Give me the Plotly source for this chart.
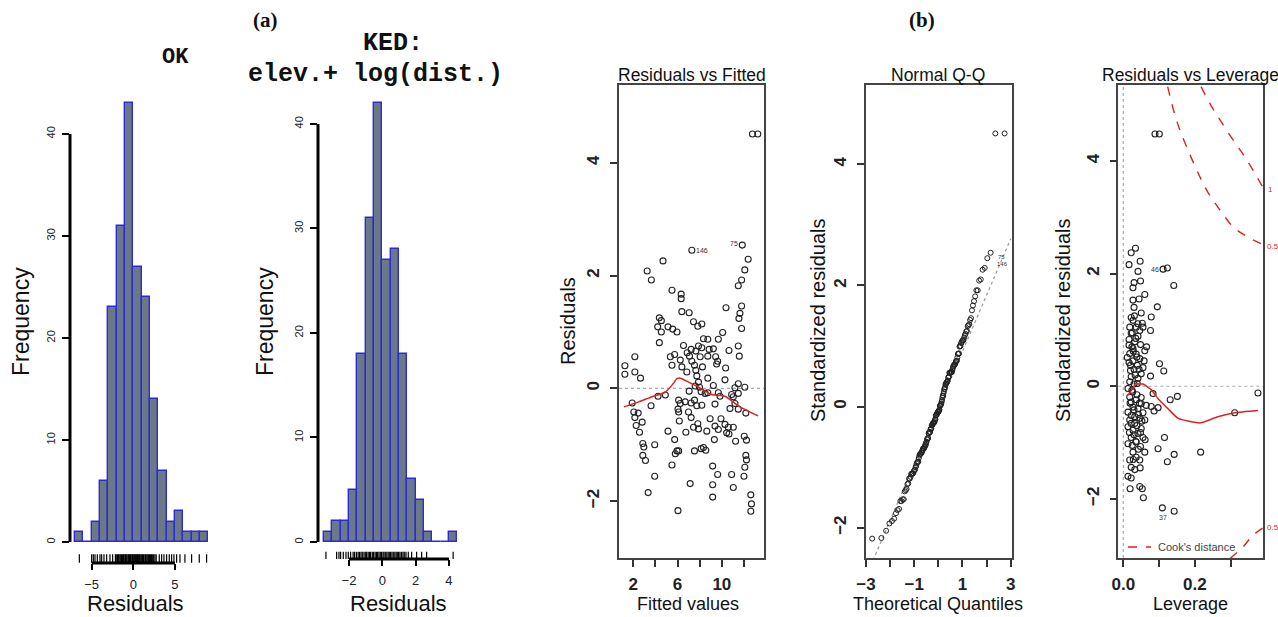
import plotly.graph_objects as go
from statistics import NormalDist

W, H = 1278, 617
FONT = "Liberation Sans, Arial, sans-serif"
MONO = "Liberation Mono, Courier New, monospace"
SERIF = "Liberation Serif, Times New Roman, serif"

# ---------------- data ----------------
ok_bin_edges = [-7, -6, -5, -4, -3, -2, -1, 0, 1, 2, 3, 4, 5, 6, 7, 8, 9]
ok_counts = [1, 0, 2, 6, 23, 31, 43, 27, 24, 14, 7, 2, 3, 1, 1, 1]
ok_rug = [-6.48, -5.0, -4.8, -4.6, -4.32, -4.0, -3.8, -3.52, -3.2, -2.8, -2.48,
          -2.15, -2.05, -1.9, -1.8, -1.72, -1.6, -1.5, -1.41, -1.3, -1.2, -1.12,
          -1.0, -0.93, -0.85, -0.75, -0.62, -0.55, -0.44, -0.35, -0.26, -0.15,
          -0.08, 0.05, 0.12, 0.24, 0.33, 0.41, 0.52, 0.6, 0.72, 0.8, 0.91, 1.02,
          1.1, 1.22, 1.3, 1.45, 1.53, 1.64, 1.75, 1.85, 1.96, 2.08, 2.2, 2.33,
          2.45, 2.6, 2.75, 3.12, 3.4, 3.68, 4.0, 4.32, 4.6, 4.88, 5.2, 5.6, 6.2,
          7.0, 7.92, 8.8]

ked_bin_edges = [-3.5, -3.0, -2.5, -2.0, -1.5, -1.0, -0.5, 0.0, 0.5, 1.0, 1.5,
                 2.0, 2.5, 3.0, 3.5, 4.0, 4.5]
ked_counts = [1, 2, 2, 5, 18, 31, 42, 27, 28, 18, 6, 4, 1, 0, 0, 1]
ked_rug = [-3.38, -2.74, -2.6, -2.5, -2.34, -2.18, -2.04, -1.9, -1.75, -1.66,
           -1.55, -1.45, -1.37, -1.28, -1.2, -1.1, -1.02, -0.94, -0.85, -0.77,
           -0.7, -0.6, -0.52, -0.43, -0.35, -0.28, -0.2, -0.12, -0.05, 0.04, 0.1,
           0.18, 0.27, 0.35, 0.42, 0.5, 0.58, 0.66, 0.75, 0.83, 0.9, 0.98, 1.06,
           1.15, 1.24, 1.32, 1.42, 1.56, 1.76, 2.06, 2.36, 2.66, 4.25]

fitted = [7.29, 11.84, 12.37, 4.69, 3.26, 12.07, 3.64, 11.78, 11.48, 5.50,
          6.33, 6.33, 10.37, 11.78, 6.39, 7.05, 11.63, 11.54, 4.36, 4.54,
          7.44, 7.83, 8.19, 11.78, 4.21, 5.14, 5.56, 4.54, 5.95, 10.07,
          8.34, 8.73, 9.68, 4.36, 6.54, 7.89, 11.48, 7.23, 8.19, 8.85,
          9.23, 10.64, 5.74, 6.87, 7.65, 2.15, 5.35, 7.08, 8.04, 8.73,
          9.44, 11.57, 6.25, 7.29, 9.62, 1.25, 5.50, 6.39, 7.53, 8.25,
          9.53, 10.34, 1.25, 2.15, 7.65, 7.74, 6.84, 2.66, 8.73, 10.28,
          7.89, 11.48, 12.07, 9.23, 7.59, 7.98, 11.18, 7.05, 8.13, 8.49,
          8.73, 9.68, 9.83, 10.88, 11.03, 11.48, 4.24, 4.90, 1.91, 3.61,
          6.10, 6.69, 6.25, 7.23, 7.53, 7.74, 8.19, 9.38, 10.73, 11.18,
          11.48, 12.16, 6.04, 6.10, 6.99, 2.06, 2.45, 2.15, 2.81, 2.27,
          7.23, 8.94, 9.92, 7.83, 6.16, 7.44, 7.89, 8.64, 9.38, 9.68,
          10.28, 10.58, 11.03, 10.43, 10.64, 2.57, 5.14, 6.75, 9.32, 11.24,
          12.02, 12.22, 5.74, 3.94, 2.87, 2.96, 8.34, 8.13, 8.55, 7.53,
          5.95, 6.10, 5.80, 2.87, 3.11, 12.16, 12.22, 5.50, 9.17, 12.07,
          3.94, 9.62, 10.88, 11.99, 7.14, 9.17, 11.03, 3.35, 9.17, 12.61,
          12.67, 12.61, 6.04, 12.76, 13.24]
resid = [2.45, 2.54, 2.29, 2.26, 2.08, 2.10, 1.92, 1.92, 1.82, 1.74,
         1.67, 1.59, 1.43, 1.46, 1.36, 1.34, 1.33, 1.24, 1.25, 1.20,
         1.18, 1.10, 1.14, 1.06, 1.09, 1.09, 1.05, 1.00, 1.00, 0.99,
         0.88, 0.87, 0.87, 0.81, 0.76, 0.75, 0.75, 0.69, 0.72, 0.69,
         0.70, 0.67, 0.60, 0.63, 0.66, 0.56, 0.56, 0.57, 0.56, 0.57,
         0.56, 0.57, 0.50, 0.48, 0.48, 0.40, 0.41, 0.38, 0.41, 0.38,
         0.43, 0.36, 0.25, 0.29, 0.32, 0.22, 0.29, 0.18, 0.18, 0.15,
         0.11, 0.08, 0.02, 0.05, 0.04, 0.02, 0.01, -0.05, -0.06, -0.09,
         -0.08, -0.08, -0.14, -0.11, -0.15, -0.09, -0.14, -0.12, -0.26, -0.31,
         -0.21, -0.24, -0.27, -0.26, -0.21, -0.31, -0.30, -0.28, -0.36, -0.27,
         -0.37, -0.44, -0.37, -0.42, -0.42, -0.42, -0.44, -0.52, -0.60, -0.66,
         -0.52, -0.54, -0.54, -0.63, -0.58, -0.69, -0.72, -0.76, -0.67, -0.73,
         -0.64, -0.69, -0.69, -0.79, -0.81, -0.78, -0.76, -0.78, -0.91, -0.94,
         -0.85, -0.92, -0.91, -1.00, -0.98, -1.04, -1.05, -1.07, -1.10, -1.11,
         -1.11, -1.11, -1.16, -1.19, -1.28, -1.19, -1.27, -1.36, -1.38, -1.40,
         -1.56, -1.53, -1.53, -1.56, -1.69, -1.71, -1.76, -1.85, -1.93, -1.89,
         -2.05, -2.18, -2.17, 4.51, 4.51]
fit_smooth_x = [1.16, 2.5, 3.70, 4.90, 5.60, 5.95, 6.25, 6.99, 7.89, 9.08, 10.28, 11.48, 13.27]
fit_smooth_y = [-0.33, -0.24, -0.15, -0.07, 0.08, 0.17, 0.18, 0.11, 0.02, -0.11, -0.14, -0.31, -0.49]

qq_line_x = [-3.0, 3.0]
qq_line_y = [-2.81, 2.77]

leverage = [0.034, 0.022, 0.047, 0.016, 0.041, 0.111, 0.123, 0.030, 0.048, 0.027,
            0.141, 0.060, 0.027, 0.095, 0.030, 0.050, 0.022, 0.078, 0.027, 0.041,
            0.018, 0.036, 0.055, 0.076, 0.046, 0.022, 0.041, 0.016, 0.032, 0.016,
            0.048, 0.027, 0.060, 0.018, 0.036, 0.011, 0.046, 0.027, 0.020, 0.039,
            0.055, 0.030, 0.101, 0.113, 0.050, 0.076, 0.022, 0.041, 0.018, 0.030,
            0.013, 0.024, 0.083, 0.376, 0.151, 0.131, 0.018, 0.036, 0.022, 0.050,
            0.064, 0.078, 0.097, 0.086, 0.027, 0.041, 0.013, 0.055, 0.032, 0.046,
            0.018, 0.060, 0.032, 0.013, 0.050, 0.027, 0.041, 0.055, 0.022, 0.115,
            0.036, 0.013, 0.048, 0.097, 0.060, 0.027, 0.216, 0.142, 0.036, 0.018,
            0.046, 0.123, 0.022, 0.032, 0.013, 0.022, 0.311, 0.019, 0.046, 0.053,
            0.056, 0.109, 0.142, 0.0885, 0.1006,
            0.025, 0.035, 0.028, 0.038, 0.020, 0.033, 0.044, 0.026, 0.038, 0.045,
            0.030, 0.042, 0.022, 0.052, 0.038, 0.022, 0.048, 0.030, 0.042, 0.025,
            0.050, 0.058, 0.016, 0.031, 0.044, 0.053, 0.019, 0.035, 0.028, 0.047,
            0.061, 0.065, 0.017, 0.039, 0.024]
std_resid = [2.45, 2.37, 2.22, 2.16, 2.04, 2.08, 2.10, 1.84, 1.87, 1.75,
             1.79, 1.63, 1.53, 1.41, 1.40, 1.30, 1.22, 1.23, 1.17, 1.11,
             1.05, 1.05, 1.05, 0.99, 0.99, 0.94, 0.89, 0.83, 0.79, 0.73,
             0.74, 0.67, 0.63, 0.58, 0.57, 0.51, 0.49, 0.45, 0.37, 0.37,
             0.33, 0.30, 0.40, 0.27, 0.22, 0.18, 0.17, 0.14, 0.08, 0.04,
             -0.04, -0.07, -0.13, -0.12, -0.18, -0.24, -0.19, -0.24, -0.28, -0.31,
             -0.34, -0.36, -0.38, -0.44, -0.37, -0.40, -0.46, -0.47, -0.54, -0.57,
             -0.60, -0.60, -0.66, -0.72, -0.75, -0.78, -0.84, -0.91, -0.91, -0.91,
             -0.99, -1.02, -1.07, -1.11, -1.17, -1.17, -1.17, -1.21, -1.26, -1.31,
             -1.31, -1.34, -1.44, -1.48, -1.60, -1.63, -0.47, -1.82, -1.78, -1.82,
             -1.98, -2.16, -2.22, 4.48, 4.48,
             0.95, 0.85, 0.62, 0.52, 0.28, 0.20, 0.30, -0.10, -0.15, -0.30,
             -0.42, -0.50, -0.52, -0.62, -0.70, -0.66, -0.82, -0.86, -1.12, -1.05,
             -0.20, 0.45, 0.42, 1.25, 1.55, 1.12, -0.30, -0.98, -1.30, -1.45,
             -0.95, 0.70, -0.82, 0.05, 0.70]
lev_smooth_x = [0.013, 0.025, 0.036, 0.041, 0.055, 0.078, 0.097, 0.125, 0.153, 0.216, 0.264, 0.311, 0.376]
lev_smooth_y = [-0.16, -0.05, 0.06, 0.04, 0.04, -0.06, -0.22, -0.40, -0.57, -0.65, -0.54, -0.47, -0.43]
cook05_x = [0.124, 0.140, 0.158, 0.177, 0.205, 0.233, 0.270, 0.307, 0.345, 0.389]
cook05_y = [5.32, 4.91, 4.55, 4.25, 3.84, 3.48, 3.13, 2.83, 2.66, 2.52]
cook1_x = [0.217, 0.242, 0.270, 0.307, 0.345, 0.389]
cook1_y = [5.32, 5.02, 4.73, 4.37, 4.02, 3.54]
cook05_low_x = [0.298, 0.335, 0.360, 0.389]
cook05_low_y = [-3.06, -2.85, -2.66, -2.52]

# ---------------- helpers ----------------
def dom_x(a, b):
    return [a / W, b / W]


def dom_y(top, bottom):
    return [1 - bottom / H, 1 - top / H]


def px(x):
    return x / W


def py(y):
    return 1 - y / H


fig = go.Figure()


def centers(edges):
    return [(edges[i] + edges[i + 1]) / 2 for i in range(len(edges) - 1)]


def widths(edges):
    return [edges[i + 1] - edges[i] for i in range(len(edges) - 1)]


BAR_FILL = "#6b7888"
BAR_LINE = "#2b2bd8"
for edges, counts, rug, rug_y, xa, ya in [
    (ok_bin_edges, ok_counts, ok_rug, -1.62, "x", "y"),
    (ked_bin_edges, ked_counts, ked_rug, -1.34, "x2", "y2"),
]:
    fig.add_trace(go.Bar(x=centers(edges), y=counts, width=widths(edges),
                         marker=dict(color=BAR_FILL, line=dict(color=BAR_LINE, width=1.4)),
                         xaxis=xa, yaxis=ya, showlegend=False, hoverinfo="skip"))
    fig.add_trace(go.Scatter(x=rug, y=[rug_y] * len(rug), mode="markers",
                             marker=dict(symbol="line-ns-open", size=6, color="black",
                                         line=dict(color="black", width=1.2)),
                             xaxis=xa, yaxis=ya, showlegend=False, hoverinfo="skip"))

PT = dict(symbol="circle-open", size=6, color="#222", line=dict(width=1.1))
RED = "#dd2222"

# Residuals vs Fitted
fig.add_trace(go.Scatter(x=fitted, y=resid, mode="markers", marker=PT,
                         xaxis="x3", yaxis="y3", showlegend=False))
fig.add_trace(go.Scatter(x=fit_smooth_x, y=fit_smooth_y, mode="lines",
                         line=dict(color=RED, width=1.5, shape="spline", smoothing=0.6),
                         xaxis="x3", yaxis="y3", showlegend=False))

# Normal Q-Q (theoretical quantiles of the residuals)
qq_y = sorted(resid)
n = len(qq_y)
qq_x = [NormalDist().inv_cdf((i + 0.5) / n) for i in range(n)]
fig.add_trace(go.Scatter(x=qq_line_x, y=qq_line_y, mode="lines",
                         line=dict(color="#999", width=1.2, dash="dot"),
                         xaxis="x4", yaxis="y4", showlegend=False))
fig.add_trace(go.Scatter(x=qq_x, y=qq_y, mode="markers",
                         marker=dict(symbol="circle-open", size=5, color="#222", line=dict(width=1)),
                         xaxis="x4", yaxis="y4", showlegend=False))

# Residuals vs Leverage
for cx, cy in [(cook05_x, cook05_y), (cook1_x, cook1_y), (cook05_low_x, cook05_low_y)]:
    fig.add_trace(go.Scatter(x=cx, y=cy, mode="lines",
                             line=dict(color=RED, width=1.4, dash="dash", shape="spline"),
                             xaxis="x5", yaxis="y5", showlegend=False))
fig.add_trace(go.Scatter(x=leverage, y=std_resid, mode="markers", marker=PT,
                         xaxis="x5", yaxis="y5", showlegend=False))
fig.add_trace(go.Scatter(x=lev_smooth_x, y=lev_smooth_y, mode="lines",
                         line=dict(color=RED, width=1.5, shape="spline", smoothing=0.5),
                         xaxis="x5", yaxis="y5", showlegend=False))

# ---------------- axes ----------------
def hist_axes(xdom, ydom, xr, yr, xticks, yticks):
    xa = dict(domain=xdom, range=xr, showline=False, showgrid=False, zeroline=False,
              ticks="outside", ticklen=6, tickwidth=2, tickcolor="black",
              tickvals=xticks, ticktext=[str(t).replace("-", "\u2212") for t in xticks],
              tickfont=dict(family=FONT, size=13, color="#222"), ticklabelstandoff=3,
              fixedrange=True, automargin=False)
    ya = dict(domain=ydom, range=yr, showline=False, showgrid=False, zeroline=False,
              ticks="outside", ticklen=7, tickwidth=2, tickcolor="black",
              tickvals=yticks, ticktext=[str(t) for t in yticks], tickangle=-90,
              tickfont=dict(family=FONT, size=11, color="#222"), ticklabelstandoff=3,
              fixedrange=True, automargin=False)
    return xa, ya


def diag_axes(xdom, ydom, xr, yr, xticks, xtext):
    common = dict(showline=True, mirror=True, linecolor="#444", linewidth=1.6,
                  showgrid=False, zeroline=False, ticks="outside", ticklen=7,
                  tickwidth=1.5, tickcolor="#333", fixedrange=True, automargin=False,
                  tickfont=dict(family=FONT, size=17, color="#222", weight="bold"))
    xa = dict(domain=xdom, range=xr, tickvals=xticks, ticktext=xtext, ticklabelstandoff=3, **common)
    ya = dict(domain=ydom, range=yr, tickvals=[-2, 0, 2, 4],
              ticktext=["\u22122", "0", "2", "4"], tickangle=-90, ticklabelstandoff=4, **common)
    return xa, ya


x1, y1 = hist_axes(dom_x(70, 212), dom_y(85, 563), [-7.60, 9.45], [-2.06, 44.8],
                   [-5, 0, 5], [0, 10, 20, 30, 40])
x2, y2 = hist_axes(dom_x(318, 462), dom_y(85, 559), [-3.857, 4.781], [-1.627, 43.73],
                   [-2, 0, 2, 4], [0, 10, 20, 30, 40])
x3, y3 = diag_axes(dom_x(619, 764), dom_y(85, 558), [0.72, 13.8], [-3.01, 5.38],
                   [2, 4, 6, 8, 10, 12], ["2", "", "6", "", "10", ""])
x4, y4 = diag_axes(dom_x(866, 1011.7), dom_y(85, 558), [-3.0, 3.04], [-2.5, 5.31],
                   [-3, -2, -1, 0, 1, 2, 3], ["\u22123", "", "\u22121", "", "1", "", "3"])
x5, y5 = diag_axes(dom_x(1118.3, 1263.3), dom_y(85, 558), [-0.014, 0.391], [-3.05, 5.35],
                   [0.0, 0.1, 0.2, 0.3], ["0.0", "", "0.2", ""])

for i, (xa, ya) in enumerate([(x1, y1), (x2, y2), (x3, y3), (x4, y4), (x5, y5)], start=1):
    sx = "" if i == 1 else str(i)
    xa["anchor"] = "y" + sx
    ya["anchor"] = "x" + sx

shapes = []
# R-style axis lines for histograms
shapes += [
    dict(type="line", xref="paper", yref="y", x0=px(70), x1=px(70), y0=0, y1=40,
         line=dict(color="black", width=3)),
    dict(type="line", xref="x", yref="paper", x0=-5, x1=5, y0=py(563), y1=py(563),
         line=dict(color="black", width=3)),
    dict(type="line", xref="paper", yref="y2", x0=px(318), x1=px(318), y0=0, y1=40,
         line=dict(color="black", width=3)),
    dict(type="line", xref="x2", yref="paper", x0=-2, x1=4, y0=py(559), y1=py(559),
         line=dict(color="black", width=3)),
]
# reference dotted lines
shapes += [
    dict(type="line", xref="x3 domain", yref="y3", x0=0, x1=1, y0=0, y1=0,
         line=dict(color="#aaa", width=1.2, dash="dot"), layer="below"),
    dict(type="line", xref="x5 domain", yref="y5", x0=0, x1=1, y0=0, y1=0,
         line=dict(color="#aaa", width=1.2, dash="dot"), layer="below"),
    dict(type="line", xref="x5", yref="y5 domain", x0=0, x1=0, y0=0, y1=1,
         line=dict(color="#aaa", width=1.2, dash="dot"), layer="below"),
    # legend sample line
    dict(type="line", xref="paper", yref="paper", x0=px(1128), x1=px(1151), y0=py(547), y1=py(547),
         line=dict(color=RED, width=1.4, dash="dash")),
]


def ann(text, x, y, size, family=FONT, color="#111", angle=0, xanchor="center",
        weight="normal"):
    return dict(text=text, x=px(x), y=py(y), xref="paper", yref="paper", showarrow=False,
                font=dict(family=family, size=size, color=color, weight=weight),
                textangle=angle, xanchor=xanchor, yanchor="middle")


def dann(text, x, y, xr, yr, size=7, color="#333", xanchor="center"):
    return dict(text=text, x=x, y=y, xref=xr, yref=yr, showarrow=False,
                font=dict(family=FONT, size=size, color=color), xanchor=xanchor, yanchor="middle")


annotations = [
    ann("(a)", 265, 20, 21, SERIF, "#111", weight="bold"),
    ann("(b)", 922, 20, 21, SERIF, "#111", weight="bold"),
    ann("OK", 175, 58, 22, MONO, "#111", weight="bold"),
    ann("KED:", 393, 43, 25, MONO, "#111", weight="bold"),
    ann("elev.+ log(dist.)", 375, 74, 25, MONO, "#111", weight="bold"),
    ann("Frequency", 21, 322, 23, angle=-90),
    ann("Frequency", 265, 322, 23, angle=-90),
    ann("Residuals", 135, 603, 22),
    ann("Residuals", 398, 603, 22),
    ann("Residuals vs Fitted", 692, 75, 17.5),
    ann("Normal Q-Q", 938, 75, 17.5),
    ann("Residuals vs Leverage", 1190, 75, 17.5),
    ann("Residuals", 568, 321, 20, angle=-90),
    ann("Standardized residuals", 818, 321, 20, angle=-90),
    ann("Standardized residuals", 1063, 321, 20, angle=-90),
    ann("Fitted values", 688, 604, 18),
    ann("Theoretical Quantiles", 938, 604, 18),
    ann("Leverage", 1190, 604, 18),
    ann("Cook's distance", 1156, 547, 11, color="#444", xanchor="left"),
    ann("1", 1266, 190, 8, color=RED, xanchor="left"),
    ann("0.5", 1265, 246, 8, color=RED, xanchor="left"),
    ann("0.5", 1265, 527, 8, color=RED, xanchor="left"),
    dann("146", 7.5, 2.45, "x3", "y3", xanchor="left"),
    dann("75", 11.62, 2.56, "x3", "y3", xanchor="right"),
    dann("75", 2.62, 2.47, "x4", "y4", size=6),
    dann("146", 2.66, 2.36, "x4", "y4", size=6),
    dann("46", 0.104, 2.08, "x5", "y5", xanchor="right"),
    dann("37", 0.110, -2.33, "x5", "y5"),
]

fig.update_layout(
    template="none",
    width=W, height=H, margin=dict(l=0, r=0, t=0, b=0, pad=0, autoexpand=False),
    paper_bgcolor="white", plot_bgcolor="white",
    showlegend=False, bargap=0,
    font=dict(family=FONT, color="#111"),
    xaxis=x1, yaxis=y1, xaxis2=x2, yaxis2=y2, xaxis3=x3, yaxis3=y3,
    xaxis4=x4, yaxis4=y4, xaxis5=x5, yaxis5=y5,
    shapes=shapes, annotations=annotations,
)

fig.write_html("out.html", config={"displayModeBar": False},
               post_script="document.body.style.margin='0';document.body.style.padding='0';")
